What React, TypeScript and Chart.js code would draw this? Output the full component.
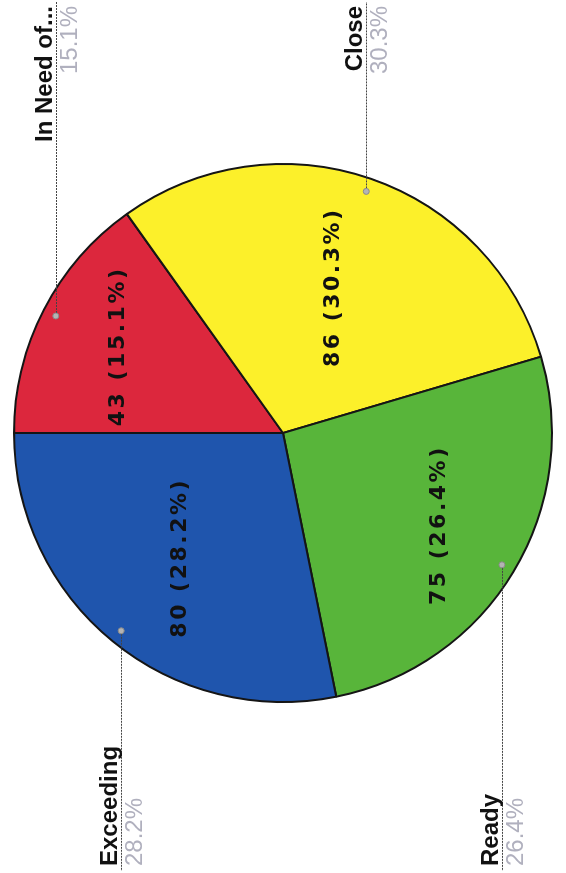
import React, { useEffect, useRef } from "react";
import { Chart, registerables } from "chart.js";

Chart.register(...registerables);

// ---- data ----
const categories = ["In Need of...", "Close", "Ready", "Exceeding"];
const values = [43, 86, 75, 80];
const sliceColors = ["#dc273d", "#fcf02a", "#58b53a", "#1f55ad"];

const W = 873; // drawing is done in the chart's own (unrotated) orientation
const H = 566;

const labelPlugin = {
  id: "pieLabels",
  afterDatasetsDraw(chart: any) {
    const ctx: CanvasRenderingContext2D = chart.ctx;
    const meta = chart.getDatasetMeta(0);
    const data: number[] = chart.data.datasets[0].data;
    const labels: string[] = chart.data.labels;
    const total = data.reduce((a, b) => a + b, 0);
    meta.data.forEach((arc: any, i: number) => {
      const { x, y, startAngle, endAngle, outerRadius } = arc.getProps(
        ["x", "y", "startAngle", "endAngle", "outerRadius"],
        true
      );
      const mid = (startAngle + endAngle) / 2;
      const c = Math.cos(mid);
      const s = Math.sin(mid);
      const pct = ((data[i] / total) * 100).toFixed(1) + "%";

      // inner value label
      ctx.save();
      ctx.font = 'bold 22px "DejaVu Sans", Verdana, sans-serif';
      (ctx as any).letterSpacing = "2.5px";
      const txt = `${data[i]} (${pct})`;
      const tw = ctx.measureText(txt).width;
      const th = 20;
      const d = 0.86 * outerRadius - (tw / 2) * Math.abs(c) - (th / 2) * Math.abs(s);
      ctx.fillStyle = "#111111";
      ctx.textAlign = "center";
      ctx.textBaseline = "middle";
      ctx.fillText(txt, x + d * c + 1.5, y + d * s + 1);
      ctx.restore();

      // leader line with dot and outside label
      const r2 = 0.95 * outerRadius;
      const px = x + r2 * c;
      const py = y + r2 * s;
      const right = c >= 0;
      const endX = right ? chart.width - 2 : 2;
      ctx.save();
      ctx.strokeStyle = "#444444";
      ctx.lineWidth = 1;
      ctx.setLineDash([2, 1]);
      ctx.beginPath();
      ctx.moveTo(px, Math.round(py) + 0.5);
      ctx.lineTo(endX, Math.round(py) + 0.5);
      ctx.stroke();
      ctx.setLineDash([]);
      ctx.beginPath();
      ctx.arc(px, py, 3, 0, Math.PI * 2);
      ctx.fillStyle = "#b4b4b4";
      ctx.fill();
      ctx.strokeStyle = "#8a8a8a";
      ctx.stroke();

      const tx = right ? chart.width - 6 : 7;
      ctx.textAlign = right ? "right" : "left";
      ctx.textBaseline = "alphabetic";
      ctx.font = 'bold 24px "Liberation Sans", Arial, sans-serif';
      ctx.fillStyle = "#111111";
      ctx.fillText(labels[i], tx, py - 4);
      ctx.font = '24px "Liberation Sans", Arial, sans-serif';
      ctx.fillStyle = "#b0b0be";
      ctx.fillText(pct, tx, py + 21);
      ctx.restore();
    });
  },
};

export default function App() {
  const ref = useRef<HTMLCanvasElement | null>(null);
  useEffect(() => {
    if (!ref.current) return;
    const chart = new Chart(ref.current, {
      type: "pie",
      data: {
        labels: categories,
        datasets: [
          {
            data: values,
            backgroundColor: sliceColors,
            borderColor: "#151515",
            borderWidth: 2,
            radius: 269,
            hoverOffset: 0,
          } as any,
        ],
      },
      options: {
        responsive: false,
        animation: false,
        events: [],
        layout: { padding: { left: 7, right: 0, top: 0, bottom: 0 } },
        plugins: {
          legend: { display: false },
          tooltip: { enabled: false },
        },
      },
      plugins: [labelPlugin],
    });
    return () => chart.destroy();
  }, []);

  return (
    <div
      style={{
        position: "absolute",
        left: 0,
        top: 0,
        width: 566,
        height: 873,
        overflow: "hidden",
        background: "#ffffff",
      }}
    >
      <canvas
        ref={ref}
        width={W}
        height={H}
        style={{
          position: "absolute",
          left: 0,
          top: 873,
          width: W,
          height: H,
          transformOrigin: "0 0",
          transform: "rotate(-90deg)",
        }}
      />
    </div>
  );
}
